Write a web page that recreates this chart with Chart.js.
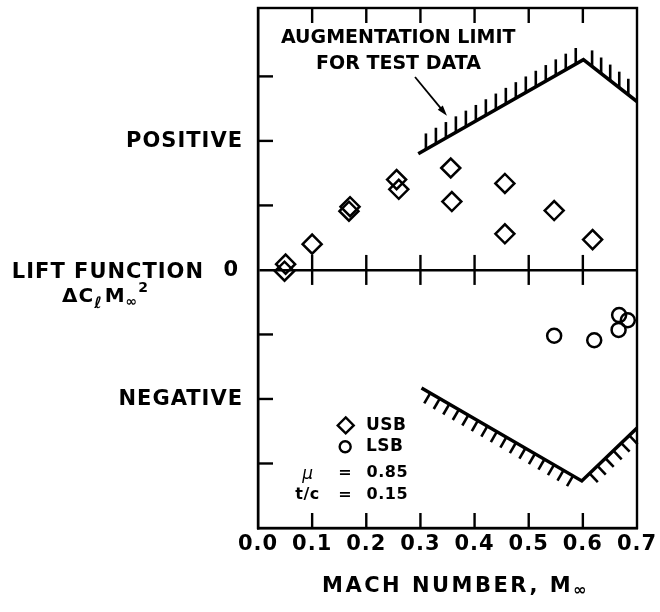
<!DOCTYPE html>
<html>
<head>
<meta charset="UTF-8">
<title>Lift function vs Mach number</title>
<script src="https://cdn.jsdelivr.net/npm/chart.js@4.4.1/dist/chart.umd.min.js"></script>
<style>
  body { margin: 0; background: #fff; }
  #wrap { width: 660px; height: 612px; }
</style>
</head>
<body>
<div id="wrap"><canvas id="chart" width="660" height="612"></canvas></div>
<script>
// USB (upper surface blowing) - diamonds
const usbMach = [0.049, 0.051, 0.100, 0.170, 0.168, 0.256, 0.260, 0.356, 0.358, 0.456, 0.456, 0.547, 0.618];
const usbLift = [-0.02, 0.09, 0.40, 0.98, 0.91, 1.40, 1.25, 1.58, 1.06, 1.34, 0.56, 0.92, 0.47];

// LSB (lower surface blowing) - circles
const lsbMach = [0.547, 0.621, 0.667, 0.683, 0.666];
const lsbLift = [-1.02, -1.09, -0.70, -0.78, -0.93];

// augmentation limit for test data
const upperLimitMach = [0.296, 0.601, 0.700];
const upperLimitLift = [1.80, 3.26, 2.61];
const lowerLimitMach = [0.302, 0.598, 0.700];
const lowerLimitLift = [-1.83, -3.27, -2.45];

// axes
const machTicks = [0.0, 0.1, 0.2, 0.3, 0.4, 0.5, 0.6, 0.7];
const liftTickValues = [2, 0, -2];
const liftTickLabels = ["POSITIVE", "0", "NEGATIVE"];
const innerLiftTicks = [-3, -2, -1, 1, 2, 3];

const FONT = "DejaVu Sans";
const toPts = (xs, ys) => xs.map((x, i) => ({ x: x, y: ys[i] }));

// text helper: runs of {t, font, dy, gap}
function drawRuns(ctx, runs, x, y) {
    for (const r of runs) {
        ctx.font = r.font;
        ctx.fillText(r.t, x, y + (r.dy || 0));
        x += ctx.measureText(r.t).width + (r.gap || 0);
    }
}

function line(ctx, x1, y1, x2, y2) {
    ctx.beginPath();
    ctx.moveTo(x1, y1);
    ctx.lineTo(x2, y2);
    ctx.stroke();
}

// hatching along a limit line
function hatch(ctx, pts, spacing, len, mode) {
    for (let i = 0; i < pts.length - 1; i++) {
        const a = pts[i], b = pts[i + 1];
        const dx = b.x - a.x, dy = b.y - a.y;
        const L = Math.hypot(dx, dy);
        const ux = dx / L, uy = dy / L;
        let hx, hy;
        if (mode === "up") { hx = 0; hy = -len; }
        else {
            // perpendicular, pointing downward on screen
            hx = -uy * len; hy = ux * len;
            if (hy < 0) { hx = -hx; hy = -hy; }
        }
        const n = Math.floor(L / spacing);
        const off = (L - (n - 1) * spacing) / 2;
        for (let k = 0; k < n; k++) {
            const px = a.x + ux * (off + k * spacing);
            const py = a.y + uy * (off + k * spacing);
            line(ctx, px, py, px + hx, py + hy);
        }
    }
}

const decor = {
    id: "decor",
    beforeDraw(chart) {
        chart.ctx.letterSpacing = "1px";
    },
    afterDatasetsDraw(chart) {
        const ctx = chart.ctx;
        const xs = chart.scales.x, ys = chart.scales.y;
        const X = v => xs.getPixelForValue(v), Y = v => ys.getPixelForValue(v);
        ctx.save();
        ctx.strokeStyle = "#000";
        ctx.fillStyle = "#000";
        ctx.lineWidth = 2.6;
        ctx.lineCap = "butt";

        // hatches
        hatch(ctx, chart.getDatasetMeta(2).data, 11.5, 16, "up");
        hatch(ctx, chart.getDatasetMeta(3).data, 11, 12, "down");

        // arrow to the limit line
        ctx.lineWidth = 1.8;
        const ax1 = X(0.290), ay1 = Y(2.99), ax2 = X(0.349), ay2 = Y(2.39);
        const ang = Math.atan2(ay2 - ay1, ax2 - ax1);
        line(ctx, ax1, ay1, ax2 - Math.cos(ang) * 6, ay2 - Math.sin(ang) * 6);
        ctx.beginPath();
        ctx.moveTo(ax2, ay2);
        ctx.lineTo(ax2 - Math.cos(ang - 0.3) * 11, ay2 - Math.sin(ang - 0.3) * 11);
        ctx.lineTo(ax2 - Math.cos(ang + 0.3) * 11, ay2 - Math.sin(ang + 0.3) * 11);
        ctx.closePath();
        ctx.fill();

        // label of the limit
        ctx.letterSpacing = "0px";
        ctx.textAlign = "center";
        ctx.textBaseline = "alphabetic";
        ctx.font = "bold 19px " + FONT;
        ctx.fillText("AUGMENTATION LIMIT", X(0.259), Y(3.63) + 7);
        ctx.fillText("FOR TEST DATA", X(0.2595), Y(3.22) + 7);

        // legend
        ctx.lineWidth = 2.4;
        const dX = X(0.162), dY = Y(-2.41), r = 8;
        ctx.beginPath();
        ctx.moveTo(dX, dY - r); ctx.lineTo(dX + r, dY); ctx.lineTo(dX, dY + r); ctx.lineTo(dX - r, dY);
        ctx.closePath(); ctx.stroke();
        ctx.beginPath();
        ctx.arc(X(0.161), Y(-2.74), 5.5, 0, Math.PI * 2);
        ctx.stroke();
        ctx.textAlign = "left";
        ctx.textBaseline = "middle";
        ctx.letterSpacing = "0.5px";
        ctx.font = "bold 17px " + FONT;
        ctx.fillText("USB", X(0.1995), Y(-2.41));
        ctx.fillText("LSB", X(0.1995), Y(-2.74));
        ctx.font = "bold 16px " + FONT;
        ctx.fillText("0.85", X(0.2005), Y(-3.15));
        ctx.fillText("0.15", X(0.2005), Y(-3.49));
        ctx.textAlign = "center";
        ctx.fillText("=", X(0.161), Y(-3.15));
        ctx.fillText("=", X(0.161), Y(-3.49));
        ctx.fillText("t/c", X(0.0915), Y(-3.49));
        ctx.font = "italic 17px " + FONT;
        ctx.fillText("\u03BC", X(0.092), Y(-3.15) + 1);
        ctx.restore();
    },
    afterDraw(chart) {
        const ctx = chart.ctx;
        const a = chart.chartArea;
        const xs = chart.scales.x, ys = chart.scales.y;
        ctx.save();
        ctx.strokeStyle = "#000";
        ctx.fillStyle = "#000";
        ctx.lineWidth = 2.4;

        // frame
        ctx.strokeRect(a.left, a.top, a.right - a.left, a.bottom - a.top);

        // inward ticks
        const zy = ys.getPixelForValue(0);
        machTicks.slice(1, -1).forEach(v => {
            const px = xs.getPixelForValue(v);
            line(ctx, px, a.top, px, a.top + 15);
            line(ctx, px, a.bottom, px, a.bottom - 15);
            line(ctx, px, zy - 15, px, zy + 15);
        });
        innerLiftTicks.forEach(v => {
            const py = ys.getPixelForValue(v);
            line(ctx, a.left, py, a.left + 15, py);
        });

        // y tick labels
        ctx.letterSpacing = "1px";
        ctx.font = "bold 21px " + FONT;
        ctx.textAlign = "right";
        ctx.textBaseline = "middle";
        liftTickValues.forEach((v, i) => {
            ctx.fillText(liftTickLabels[i], a.left - (v === 0 ? 19 : 15), ys.getPixelForValue(v) + 1);
        });

        // y axis title
        ctx.textBaseline = "alphabetic";
        ctx.fillText("LIFT FUNCTION", 204, zy + 8);
        ctx.textAlign = "left";
        drawRuns(ctx, [
            { t: "\u0394C", font: "bold 20px " + FONT },
            { t: "\u2113", font: "italic bold 16px " + FONT, dy: 6, gap: 2 },
            { t: "M", font: "bold 20px " + FONT },
            { t: "\u221E", font: "bold 14px " + FONT, dy: 4 },
            { t: "2", font: "bold 14px " + FONT, dy: -10 }
        ], 62, zy + 32);

        // x axis title
        ctx.letterSpacing = "2.5px";
        drawRuns(ctx, [
            { t: "MACH NUMBER, M", font: "bold 21px " + FONT },
            { t: "\u221E", font: "bold 16px " + FONT, dy: 3 }
        ], 322, 592);
        ctx.restore();
    }
};

new Chart(document.getElementById("chart"), {
    type: "scatter",
    data: {
        datasets: [
            {
                label: "USB",
                data: toPts(usbMach, usbLift),
                pointStyle: "rectRot",
                pointRadius: 9.5,
                pointBorderWidth: 2.5,
                borderColor: "#000",
                backgroundColor: "rgba(255,255,255,0)"
            },
            {
                label: "LSB",
                data: toPts(lsbMach, lsbLift),
                pointStyle: "circle",
                pointRadius: 7,
                pointBorderWidth: 2.5,
                borderColor: "#000",
                backgroundColor: "rgba(255,255,255,0)"
            },
            {
                label: "Upper limit",
                data: toPts(upperLimitMach, upperLimitLift),
                showLine: true,
                pointRadius: 0,
                borderWidth: 3.5,
                borderColor: "#000"
            },
            {
                label: "Lower limit",
                data: toPts(lowerLimitMach, lowerLimitLift),
                showLine: true,
                pointRadius: 0,
                borderWidth: 3.5,
                borderColor: "#000"
            }
        ]
    },
    options: {
        responsive: false,
        animation: false,
        devicePixelRatio: 1,
        layout: { autoPadding: false, padding: { top: 8, right: 23, left: 0, bottom: 0 } },
        plugins: {
            legend: { display: false },
            tooltip: { enabled: false }
        },
        scales: {
            x: {
                type: "linear",
                min: 0,
                max: 0.7,
                afterBuildTicks: s => { s.ticks = machTicks.map(v => ({ value: v })); },
                afterFit: s => { s.height = 84; },
                ticks: {
                    callback: v => v.toFixed(1),
                    color: "#000",
                    padding: 4,
                    maxRotation: 0,
                    autoSkip: false,
                    font: { family: FONT, weight: "bold", size: 21 }
                },
                grid: { display: false, drawTicks: false },
                border: { display: true, color: "#000", width: 2.4 }
            },
            y: {
                type: "linear",
                min: -4,
                max: 4.06,
                afterBuildTicks: s => { s.ticks = liftTickValues.map(v => ({ value: v })); },
                afterFit: s => { s.width = 258; },
                ticks: { display: false },
                grid: {
                    drawTicks: false,
                    color: c => (c.tick && c.tick.value === 0 ? "#000" : "rgba(0,0,0,0)"),
                    lineWidth: 2.4
                },
                border: { display: true, color: "#000", width: 2.4 }
            }
        }
    },
    plugins: [decor]
});
</script>
</body>
</html>
